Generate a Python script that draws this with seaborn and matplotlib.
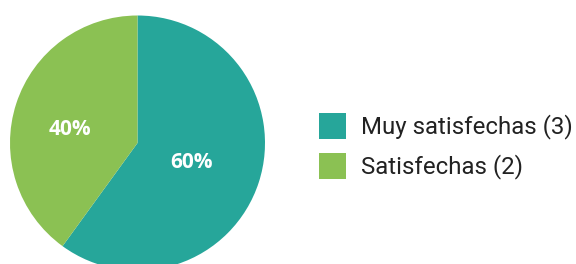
import numpy as np
import matplotlib
matplotlib.use("Agg")
import matplotlib.pyplot as plt
import seaborn as sns

categories = ["Muy satisfechas (3)", "Satisfechas (2)"]
counts = [3, 2]
colors = ["#26A69A", "#8BC153"]
label_offsets = [(0.424, -0.153), (-0.53, 0.106)]

sns.set_theme(style="white")
plt.rcParams['font.family'] = ['Roboto', 'DejaVu Sans']

fig = plt.figure(figsize=(5.76, 2.64), dpi=100)
W, H = 576, 264
cx, cy, r = 137.5, 143, 127.5
ax = fig.add_axes([(cx - r) / W, (H - cy - r) / H, 2 * r / W, 2 * r / H])
wedges, _ = ax.pie(counts, colors=colors, startangle=90, counterclock=False,
                   radius=1, wedgeprops=dict(linewidth=0))
ax.set_xlim(-1, 1)
ax.set_ylim(-1, 1)
ax.set_aspect('equal')
ax.axis('off')

total = sum(counts)
for c, (lx, ly) in zip(counts, label_offsets):
    ax.text(lx, ly, f"{round(100 * c / total)}%",
            color="white", fontsize=15, fontweight="bold",
            family=['Open Sans', 'DejaVu Sans'],
            ha="center", va="center")

fs = 17.3
leg = fig.legend(wedges, categories, loc="center left",
                 bbox_to_anchor=(319 / W, 1 - 146 / H), frameon=False,
                 fontsize=fs, handlelength=1.13, handleheight=1.3,
                 handletextpad=0.62, labelspacing=0.55, borderpad=0,
                 borderaxespad=0, labelcolor="#222222")
fig.savefig("out.png", dpi=100)
